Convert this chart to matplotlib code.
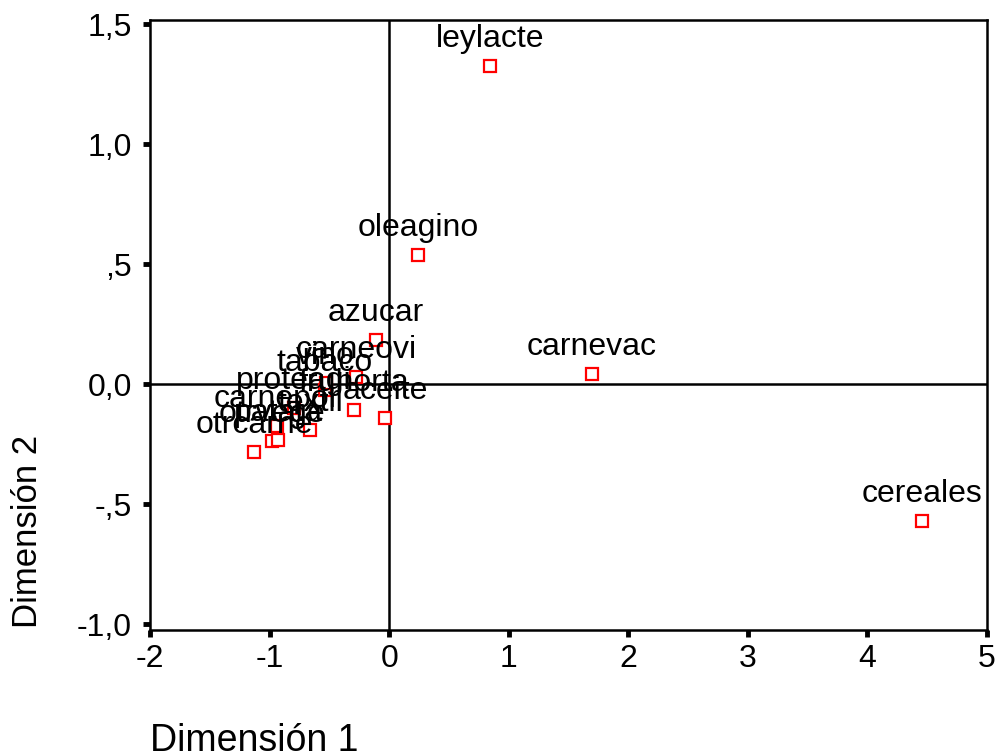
import matplotlib
matplotlib.use("Agg")
import matplotlib.pyplot as plt

plt.rcParams['font.family'] = ['Liberation Sans', 'DejaVu Sans']

labels = ["leylacte", "oleagino", "azucar", "carnevac", "cereales", "carneovi",
          "aceite", "fruhorta", "tabaco", "vino", "proteagi", "carnepor",
          "textil", "otrvege", "patata", "otrcarne"]
dim1 = [0.843, 0.241, -0.110, 1.697, 4.456, -0.277,
        -0.035, -0.294, -0.536, -0.53, -0.796, -0.938,
        -0.662, -0.980, -0.929, -1.130]
dim2 = [1.325, 0.5375, 0.183, 0.042, -0.571, 0.029,
        -0.142, -0.108, -0.025, 0.005, -0.100, -0.175,
        -0.192, -0.238, -0.233, -0.283]

xticks = [-2, -1, 0, 1, 2, 3, 4, 5]
xticklabels = ["-2", "-1", "0", "1", "2", "3", "4", "5"]
yticks = [1.5, 1.0, 0.5, 0.0, -0.5, -1.0]
yticklabels = ["1,5", "1,0", ",5", "0,0", "-,5", "-1,0"]

fig = plt.figure(figsize=(9.98, 7.56), dpi=100)
ax = fig.add_axes([150/998, 1-630/756, (987-150)/998, (630-20)/756])

ax.axhline(0, color='black', lw=1.8, zorder=1)
ax.axvline(0, color='black', lw=1.8, zorder=1)

ax.plot(dim1, dim2, linestyle='none', marker='s', markersize=8.5,
        markerfacecolor='white', markeredgecolor='#ff0000', markeredgewidth=1.6, zorder=3)

for lab, x, y in zip(labels, dim1, dim2):
    ax.annotate(lab, (x, y), xytext=(0, 27), textcoords='offset pixels',
                ha='center', va='center', fontsize=23, color='black', zorder=4)

ax.set_xlim(-2, 5)
ax.set_ylim(-1.025, 1.517)
ax.set_xticks(xticks)
ax.set_xticklabels(xticklabels)
ax.set_yticks(yticks)
ax.set_yticklabels(yticklabels)
ax.tick_params(axis='both', direction='out', length=5, width=3.5, labelsize=23, color='black')
ax.tick_params(axis='x', pad=5)
ax.tick_params(axis='y', pad=8)
for s in ax.spines.values():
    s.set_linewidth(1.8)
    s.set_color('black')

fig.text(150/998, 1-751/756, "Dimensión 1", ha='left', va='baseline', fontsize=27)
fig.text(28/998, 1-628/756, "Dimensión 2", ha='center', va='bottom', rotation=90, fontsize=25)

fig.savefig("out.png", dpi=100)
